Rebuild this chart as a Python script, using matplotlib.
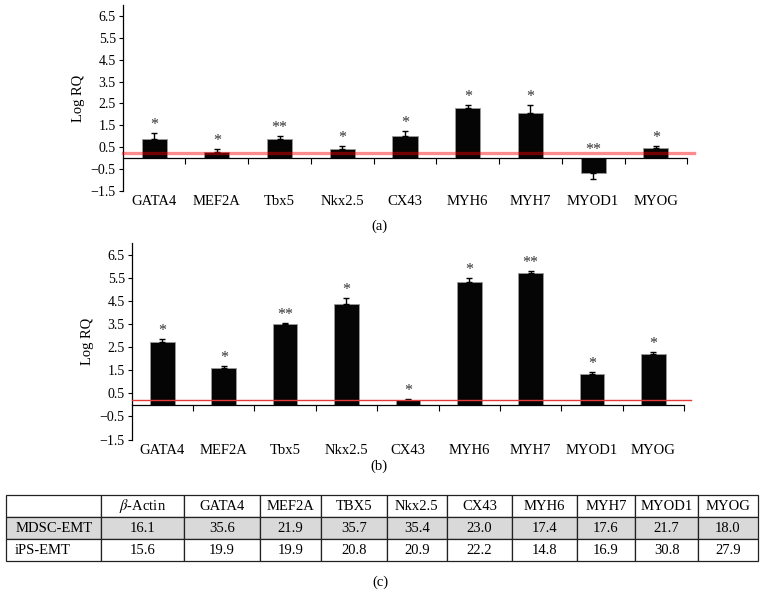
import numpy as np
import matplotlib
matplotlib.use('Agg')
import matplotlib.pyplot as plt

plt.rcParams['font.family'] = ['Liberation Serif', 'DejaVu Serif']
plt.rcParams['mathtext.fontset'] = 'stix'

genes = ['GATA4', 'MEF2A', 'Tbx5', 'Nkx2.5', 'CX43', 'MYH6', 'MYH7', 'MYOD1', 'MYOG']

# panel (a)
rq_a = [0.87, 0.29, 0.87, 0.41, 1.01, 2.29, 2.06, -0.71, 0.44]
err_a = [0.28, 0.12, 0.14, 0.12, 0.21, 0.15, 0.37, 0.25, 0.11]
stars_a = ['*', '*', '**', '*', '*', '*', '*', '**', '*']

# panel (b)
rq_b = [2.74, 1.58, 3.50, 4.39, 0.21, 5.33, 5.73, 1.36, 2.22]
err_b = [0.10, 0.10, 0.05, 0.26, 0.05, 0.15, 0.07, 0.07, 0.09]
stars_b = ['*', '*', '**', '*', '*', '*', '**', '*', '*']

threshold = 0.22

# table (c)
col_labels = [r'$\beta$-Actin', 'GATA4', 'MEF2A', 'TBX5', 'Nkx2.5', 'CX43',
              'MYH6', 'MYH7', 'MYOD1', 'MYOG']
row_labels = ['MDSC-EMT', 'iPS-EMT']
ct_mdsc = ['16.1', '35.6', '21.9', '35.7', '35.4', '23.0', '17.4', '17.6', '21.7', '18.0']
ct_ips = ['15.6', '19.9', '19.9', '20.8', '20.9', '22.2', '14.8', '16.9', '30.8', '27.9']

fig = plt.figure(figsize=(7.64, 5.93), dpi=100)


def panel(rect, vals, errs, stars, line_kw, tag, tag_x, tag_y):
	ax = fig.add_axes(rect)
	x = np.arange(len(genes))
	vals = np.array(vals)
	errs = np.array(errs)
	lo = np.where(vals < 0, errs, 0)
	hi = np.where(vals >= 0, errs, 0)
	ax.bar(x, vals, width=0.4, color='#050505', edgecolor='#9a9a9a', linewidth=0.6, zorder=2)
	ax.errorbar(x, vals, yerr=[lo, hi], fmt='none', ecolor='black', elinewidth=1,
				capsize=2.5, capthick=1, zorder=3)
	for xi, v, s in zip(x, vals, stars):
		top = max(v + hi[xi], 0)
		ax.annotate(s, (xi, top), xytext=(0, 0), textcoords='offset points',
					ha='center', va='bottom', fontsize=11.5, color='#333333')
	ax.axhline(threshold, xmin=0, xmax=1.012, clip_on=False, zorder=4, **line_kw)

	ax.set_xlim(-0.5, len(genes) - 0.5)
	ax.set_ylim(-1.5, 7.0)
	yt = np.arange(-1.5, 7.0, 1.0)
	ax.set_yticks(yt)
	ax.set_yticklabels([f'{t:.1f}'.replace('-', '\u2212') for t in yt])
	ax.tick_params(axis='y', direction='out', length=3, width=0.8, labelsize=10, pad=2)
	ax.set_ylabel('Log RQ', fontsize=10.5)
	for sp in ['top', 'right']:
		ax.spines[sp].set_visible(False)
	ax.spines['left'].set_linewidth(0.9)
	# zero axis with ticks between categories
	ax.spines['bottom'].set_position(('data', 0))
	ax.spines['bottom'].set_linewidth(0.9)
	ax.set_xticks(np.arange(len(genes)) + 0.5)
	ax.set_xticklabels([])
	ax.tick_params(axis='x', direction='out', length=4, width=0.8)
	# category names under the plot
	sec = ax.secondary_xaxis(0.0)
	sec.spines['bottom'].set_visible(False)
	sec.set_xticks(x)
	sec.set_xticklabels(genes, fontsize=10.5)
	sec.tick_params(length=0, pad=3)
	fig.text(tag_x, tag_y, tag, ha='center', va='center', fontsize=10.5)
	return ax


panel([0.1606, 0.6784, 0.739, 0.313], rq_a, err_a, stars_a,
	  dict(color='red', alpha=0.45, linewidth=2.4), '(a)', 379 / 764, 1 - 226 / 593)
panel([0.1724, 0.2587, 0.7229, 0.331], rq_b, err_b, stars_b,
	  dict(color='#e53935', linewidth=1.0), '(b)', 379 / 764, 1 - 466 / 593)

# table
tax = fig.add_axes([5.7 / 764, 1 - 561 / 593, 752 / 764, 66 / 593])
tax.axis('off')
widths = np.array([95, 83, 76, 61, 66, 60, 65.6, 64.4, 58.3, 63.3, 59.4])
widths = widths / widths.sum()
cells = [[''] + col_labels, [row_labels[0]] + ct_mdsc, [row_labels[1]] + ct_ips]
tbl = tax.table(cellText=cells, colWidths=list(widths), bbox=[0, 0, 1, 1], cellLoc='center')
tbl.auto_set_font_size(False)
for (r, c), cell in tbl.get_celld().items():
	cell.set_linewidth(0.9)
	cell.set_edgecolor('#222222')
	cell.get_text().set_fontsize(10.5)
	if r == 1:
		cell.set_facecolor('#d9d9d9')
	if c == 0:
		cell.get_text().set_ha('left')
		cell.PAD = 0.1
fig.text(380 / 764, 1 - 582 / 593, '(c)', ha='center', va='center', fontsize=10.5)

fig.savefig('out.png', dpi=100)
